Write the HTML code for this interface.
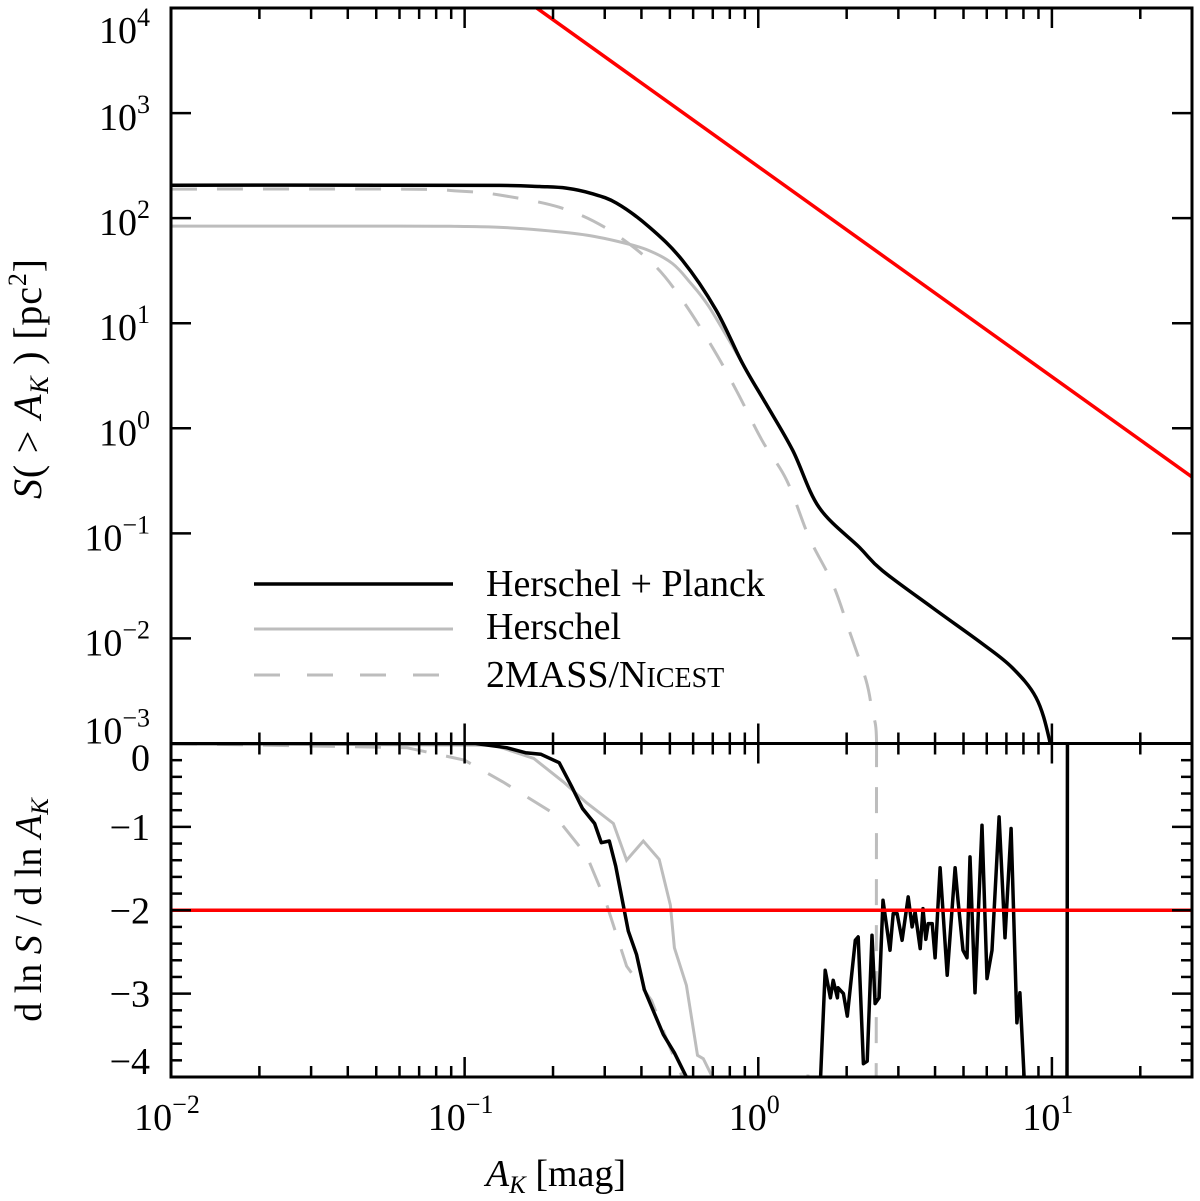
<!DOCTYPE html>
<html><head><meta charset="utf-8"><style>
html,body{margin:0;padding:0;background:#fff;}
svg{display:block;font-family:"Liberation Serif",serif;}
</style></head><body>
<svg id="chart" width="1200" height="1201" viewBox="0 0 1200 1201" xmlns="http://www.w3.org/2000/svg">
<defs>
<clipPath id="clipTop"><rect x="171" y="8" width="1021" height="735"/></clipPath>
<clipPath id="clipBot"><rect x="171" y="744" width="1021" height="333"/></clipPath>
</defs>
<g id="marks"></g>
<g id="axes"></g>
<g>
<line x1="254" y1="584" x2="453" y2="584" stroke="#000" stroke-width="3.5"/>
<line x1="254" y1="629" x2="453" y2="629" stroke="#bdbdbd" stroke-width="3"/>
<line x1="254" y1="675" x2="440" y2="675" stroke="#bdbdbd" stroke-width="3" stroke-dasharray="26,27"/>
<text x="486" y="596" font-size="38">Herschel + Planck</text>
<text x="486" y="639" font-size="38">Herschel</text>
<text x="486" y="687" font-size="38">2MASS/N<tspan font-size="28">ICEST</tspan></text>
</g>
<text transform="translate(41,379) rotate(-90)" text-anchor="middle" font-size="40" textLength="240" lengthAdjust="spacing"><tspan font-style="italic">S</tspan>( &gt; <tspan font-style="italic">A</tspan><tspan font-style="italic" font-size="26" dy="7">K</tspan><tspan dy="-7"> ) [pc</tspan><tspan font-size="26" dy="-15">2</tspan><tspan dy="15">]</tspan></text>
<text transform="translate(41,910) rotate(-90)" text-anchor="middle" font-size="38">d ln <tspan font-style="italic">S</tspan> / d ln <tspan font-style="italic">A</tspan><tspan font-style="italic" font-size="25" dy="7">K</tspan></text>
<text x="556" y="1186" text-anchor="middle" font-size="38"><tspan font-style="italic">A</tspan><tspan font-style="italic" font-size="25" dy="7">K</tspan><tspan dy="-7"> [mag]</tspan></text>
</svg>
<script>
// ---- data ----
const hpA = [0.01,0.06,0.1315,0.18,0.222,0.27,0.329,0.426,0.551,0.719,0.883,1.06,1.31,1.61,2.21,2.64,3.91,5.78,7.31,8.83,9.77,10.2];
const hpS = [206,206,205,200,193,172,139,82,39.8,13.3,4.16,1.73,0.617,0.177,0.0736,0.0444,0.0197,0.00895,0.0053,0.00274,0.00114,0.0005];
const hA = [0.01,0.06,0.0951,0.13,0.182,0.26,0.35,0.426,0.51,0.582,0.681,0.883];
const hS = [84,84,83.5,82,77,69,58,49,37,25,14.2,4.16];
const mA = [0.01,0.06,0.0962,0.1315,0.210,0.304,0.436,0.551,0.698,0.842,1.03,1.25,1.49,1.79,2.04,2.33,2.44,2.52,2.53];
const mS = [189,189,181,166,127,80,37.2,16.6,5.9,2.3,0.769,0.32,0.0916,0.0334,0.0119,0.00398,0.00206,0.00133,0.0005];
const fitA = [0.1,30];
const fitS = [31000,0.344];
const dhpA = [0.01,0.109,0.139,0.161,0.182,0.210,0.231,0.252,0.277,0.292,0.311,0.327,0.361,0.385,0.409,0.475,0.518,0.569,0.621,0.65,
 1.6,1.63,1.69,1.76,1.80,1.86,1.87,1.95,2.01,2.14,2.19,2.28,2.35,2.44,2.50,2.58,2.66,2.81,2.88,2.97,3.09,3.24,3.34,3.42,3.56,3.64,3.72,3.79,3.91,4.00,4.16,4.40,4.68,4.79,4.98,5.14,5.26,5.47,5.78,6.01,6.25,6.61,6.92,7.26,7.60,7.78,8.04,8.2,11.25,11.3];
const dhpV = [0,0,-0.05,-0.11,-0.13,-0.23,-0.51,-0.78,-0.96,-1.19,-1.17,-1.47,-2.25,-2.53,-2.95,-3.49,-3.71,-4.0,-4.3,-5,
 -5,-4.0,-2.72,-3.05,-2.84,-3.05,-2.93,-3.0,-3.27,-2.36,-2.32,-3.84,-3.81,-2.30,-3.12,-3.05,-1.88,-2.48,-2.04,-2.04,-2.36,-1.84,-2.2,-2.02,-2.46,-1.98,-2.35,-2.16,-2.16,-2.57,-1.49,-2.78,-1.49,-1.88,-2.48,-2.57,-1.36,-2.99,-0.98,-2.82,-2.48,-0.88,-2.33,-1.02,-3.35,-2.99,-4.0,-5,-5,0.5];
const dhA = [0.01,0.126,0.172,0.217,0.260,0.321,0.356,0.406,0.460,0.502,0.518,0.569,0.621,0.650,0.698,0.72];
const dhV = [0,-0.02,-0.18,-0.46,-0.71,-0.96,-1.40,-1.17,-1.39,-1.94,-2.45,-2.90,-3.74,-3.78,-4.0,-4.5];
const dmA = [0.01,0.0635,0.0809,0.1,0.135,0.199,0.260,0.302,0.356,0.433,0.486,0.551,0.57,1.45,1.48,1.52,2.51,2.52,2.53];
const dmV = [0,-0.05,-0.13,-0.20,-0.46,-0.83,-1.34,-1.89,-2.67,-3.08,-3.54,-4.0,-4.5,-4.5,-3.9,-4.5,-5,-5,0.5];
const slopeRef = [-2];
const yTopTicks = [4,3,2,1,0,-1,-2,-3];
const yBotTicks = [0,-1,-2,-3,-4];
const xTicks = [-2,-1,0,1];

// ---- axes ----
const L=171,R=1192,T=8,MID=743.5,B=1077;
const xlog0=-2, xlog1=Math.log10(30);
function X(a){return L+(Math.log10(a)-xlog0)/(xlog1-xlog0)*(R-L);}
function YT(s){return T+(4-Math.log10(s))/7*(MID-T);}
function YB(v){return MID+(0-v)/4*(B-MID);}
const NS="http://www.w3.org/2000/svg";
const marks=document.getElementById('marks'), axes=document.getElementById('axes');
function el(tag,attrs,parent){const e=document.createElementNS(NS,tag);for(const k in attrs)e.setAttribute(k,attrs[k]);parent.appendChild(e);return e;}
function path(xs,ys,fx,fy){return xs.map((a,i)=>(i?'L':'M')+fx(a).toFixed(1)+','+fy(ys[i]).toFixed(1)).join('');}
function smooth(xs,ys,fx,fy){
  const P=xs.map((a,i)=>[fx(a),fy(ys[i])]);
  let d='M'+P[0][0].toFixed(1)+','+P[0][1].toFixed(1);
  for(let i=0;i<P.length-1;i++){
    const p0=P[Math.max(0,i-1)],p1=P[i],p2=P[i+1],p3=P[Math.min(P.length-1,i+2)];
    const c1=[p1[0]+(p2[0]-p0[0])/6,p1[1]+(p2[1]-p0[1])/6];
    const c2=[p2[0]-(p3[0]-p1[0])/6,p2[1]-(p3[1]-p1[1])/6];
    d+='C'+c1[0].toFixed(1)+','+c1[1].toFixed(1)+' '+c2[0].toFixed(1)+','+c2[1].toFixed(1)+' '+p2[0].toFixed(1)+','+p2[1].toFixed(1);
  }
  return d;
}

const gt=el('g',{'clip-path':'url(#clipTop)'},marks);
const gb=el('g',{'clip-path':'url(#clipBot)'},marks);
let p;
p=el('path',{d:smooth(mA,mS,X,YT),fill:'none',stroke:'#bdbdbd','stroke-width':3,'stroke-dasharray':'26,20'},gt);


p=el('path',{d:smooth(hA,hS,X,YT),fill:'none',stroke:'#bdbdbd','stroke-width':3},gt);


p=el('path',{d:smooth(hpA,hpS,X,YT),fill:'none',stroke:'#000','stroke-width':3.5,'stroke-linejoin':'round'},gt);


p=el('path',{d:path(fitA,fitS,X,YT),fill:'none',stroke:'#f00','stroke-width':3.5},gt);



p=el('path',{d:path(dmA,dmV,X,YB),fill:'none',stroke:'#bdbdbd','stroke-width':3,'stroke-dasharray':'26,20'},gb);


p=el('path',{d:path(dhA,dhV,X,YB),fill:'none',stroke:'#bdbdbd','stroke-width':3},gb);


p=el('path',{d:path(dhpA,dhpV,X,YB),fill:'none',stroke:'#000','stroke-width':3.5,'stroke-linejoin':'round'},gb);


p=el('line',{x1:L,x2:R,y1:YB(slopeRef[0]),y2:YB(slopeRef[0]),stroke:'#f00','stroke-width':3.5},gb);



// frames
p=el('rect',{x:L,y:T,width:R-L,height:MID-T,fill:'none',stroke:'#000','stroke-width':3},axes);


p=el('rect',{x:L,y:MID,width:R-L,height:B-MID,fill:'none',stroke:'#000','stroke-width':3},axes);



function tick(x1,y1,x2,y2){el('line',{x1,y1,x2,y2,stroke:'#000','stroke-width':2.5},axes);}
for(let d=-2; d<=1; d++){
  for(let m=1;m<=9;m++){
    const a=m*Math.pow(10,d); if(a>30) break;
    const x=X(a), len=(m===1)?20:11;
    tick(x,T,x,T+len); tick(x,MID,x,MID-len); tick(x,MID,x,MID+len); tick(x,B,x,B-len);
  }
}
xTicks.forEach(d=>{
  const t=el('text',{x:X(Math.pow(10,d))-4,y:1130,'text-anchor':'middle','font-size':38},axes);
  
  
  t.innerHTML='10<tspan font-size="26" dy="-17">'+(d<0?'\u2212'+(-d):d)+'</tspan>';
});
yTopTicks.forEach(d=>{
  const y=YT(Math.pow(10,d));
  tick(L,y,L+20,y); tick(R,y,R-20,y);
  let off=17; if(d===4) off=35; if(d===-3) off=0;
  const t=el('text',{x:150,y:y+off,'text-anchor':'end','font-size':38},axes);
  
  
  t.innerHTML='10<tspan font-size="26" dy="-17">'+(d<0?'\u2212'+(-d):d)+'</tspan>';
});
for(let i=0;i<=20;i++){
  const v=-i*0.2, y=YB(v), len=(i%5===0)?20:11;
  tick(L,y,L+len,y); tick(R,y,R-len,y);
}
yBotTicks.forEach(v=>{
  let y=YB(v)+13; if(v===0) y=YB(v)+27; if(v===-4) y=YB(v)-3;
  const t=el('text',{x:150,y:y,'text-anchor':'end','font-size':38},axes);
  
  
  t.textContent=v<0?'\u2212'+(-v):String(v);
});
</script>
</body></html>
